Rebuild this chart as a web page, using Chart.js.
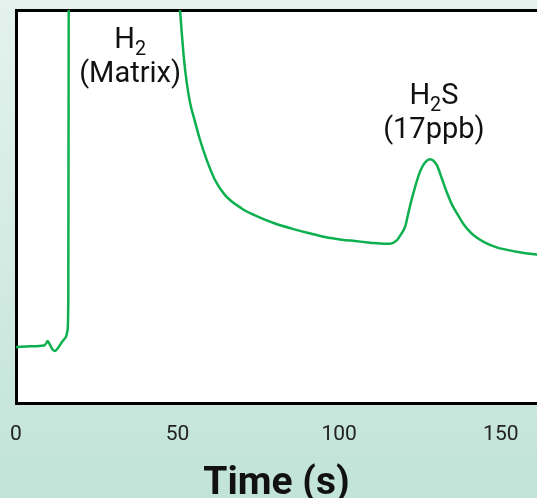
<!DOCTYPE html>
<html>
<head>
<meta charset="utf-8">
<script src="https://cdn.jsdelivr.net/npm/chart.js@4"></script>
<style>
  html, body { margin: 0; padding: 0; }
  body {
    width: 537px; height: 498px; overflow: hidden;
    background: linear-gradient(180deg, #e4f2ed 0%, #d3ebe3 50%, #c1e3d8 100%);
    font-family: Roboto, "Noto Sans", sans-serif;
  }
  #wrap { position: relative; width: 537px; height: 498px; }
  .note {
    position: absolute; transform: translate(-50%, -50%);
    text-align: center; font-size: 29px; line-height: 34px; color: #111;
    white-space: nowrap;
  }
  .note sub { font-size: 0.68em; line-height: 0; vertical-align: -0.35em; }
</style>
</head>
<body>
<div id="wrap">
  <canvas id="c"></canvas>
  <div class="note" id="n-h2">H<sub>2</sub><br>(Matrix)</div>
  <div class="note" id="n-h2s">H<sub>2</sub>S<br>(17ppb)</div>
</div>
<script>
// ---- data (time in s, detector signal in arbitrary units; H2 peak runs off scale) ----
const timeS = [0, 4.33, 8.66, 9.44, 9.75, 10.52, 11.45, 12.07, 13.0, 14.23, 15.47, 15.93, 16.18, 16.31,
  16.45, 17.3, 48.2, 49.5, 50.3, 50.74, 51.27, 51.98, 52.82, 53.84, 55.38, 56.93, 59.0, 61.57, 64.67,
  69.83, 74.97, 80.14, 85.3, 90.44, 95.61, 100.77, 104.89, 109.53, 114.17, 115.72, 117.79, 119.12,
  120.36, 121.6, 122.93, 125.0, 126.55, 128.09, 130.17, 131.71, 133.26, 134.9, 136.76, 138.61,
  140.47, 142.64, 145.11, 148.73, 154.39, 161.11, 163.68];
const signal = [14.32, 14.5, 14.71, 15.35, 15.86, 14.83, 13.55, 13.3, 14.07, 15.6, 16.88, 18.41, 26.1, 100,
  130, 170, 118, 108, 102.5, 100, 94.37, 87.47, 81.59, 76.47, 71.61, 67.01, 61.89, 56.78, 52.94,
  49.54, 47.39, 45.7, 44.42, 43.3, 42.28, 41.61, 41.25, 40.84, 40.54, 40.59, 41.43, 42.97,
  44.83, 49.1, 53.38, 58.9, 61.2, 62.07, 60.61, 57.29, 53.71, 50.51, 47.83, 45.4,
  43.61, 42.07, 40.84, 39.64, 38.62, 37.85, 37.7];
const xTicks = [0, 50, 100, 150];
const xMax = 161.2;

// peak annotations: [element id, time, signal]
const notes = [["n-h2", 35.3, 88.5], ["n-h2s", 129.3, 74.4]];

const lineColor = "#0cb04e";

const plotBg = {
  id: "plotBg",
  beforeDraw(chart) {
    const { ctx, chartArea: a } = chart;
    ctx.save();
    ctx.fillStyle = "#ffffff";
    ctx.fillRect(a.left, a.top, a.right - a.left, a.bottom - a.top);
    ctx.restore();
  }
};

const placeNotes = {
  id: "placeNotes",
  afterRender(chart) {
    for (const [id, t, v] of notes) {
      const el = document.getElementById(id);
      el.style.left = chart.scales.x.getPixelForValue(t) + "px";
      el.style.top = chart.scales.y.getPixelForValue(v) + "px";
    }
  }
};

new Chart(document.getElementById("c"), {
  type: "line",
  data: {
    datasets: [{
      data: timeS.map((t, i) => ({ x: t, y: signal[i] })),
      borderColor: lineColor,
      borderWidth: 2.5,
      pointRadius: 0,
      cubicInterpolationMode: "monotone"
    }]
  },
  options: {
    responsive: true,
    maintainAspectRatio: false,
    animation: false,
    events: [],
    layout: { padding: { left: 16, top: 10, right: 0, bottom: 0 } },
    plugins: { legend: { display: false }, tooltip: { enabled: false } },
    scales: {
      x: {
        type: "linear", min: 0, max: xMax,
        afterBuildTicks: s => { s.ticks = xTicks.map(v => ({ value: v })); },
        // invisible tick marks give the gap between the frame and the labels
        grid: { display: true, drawOnChartArea: false, drawTicks: true, tickLength: 17, tickColor: "rgba(0,0,0,0)" },
        border: { display: true, color: "#000", width: 3 },
        ticks: { padding: 2, maxRotation: 0, color: "#222", font: { family: "Roboto", size: 21 } },
        title: { display: true, text: "Time (s)", color: "#111", padding: { top: 22, bottom: 0 },
                 font: { family: "Roboto", size: 39, weight: "bold", lineHeight: 0.68 } }
      },
      x2: {
        type: "linear", position: "top", min: 0, max: xMax,
        grid: { display: false, drawTicks: false },
        border: { display: true, color: "#000", width: 3 },
        ticks: { display: false }
      },
      y: {
        min: 0, max: 100,
        grid: { display: false, drawTicks: false },
        border: { display: true, color: "#000", width: 3 },
        ticks: { display: false }
      }
    }
  },
  plugins: [plotBg, placeNotes]
});
</script>
</body>
</html>
